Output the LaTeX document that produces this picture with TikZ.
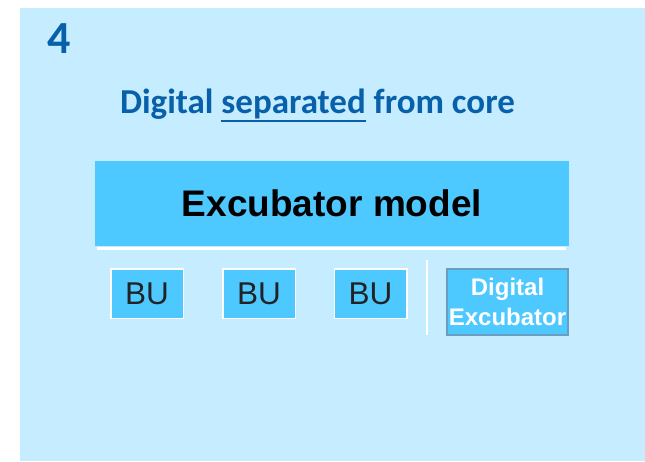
\documentclass[tikz,border=0pt]{standalone}
\usepackage{fontspec}
\setmainfont{Liberation Sans}
\newfontfamily\calfont{Carlito}
\definecolor{bgblue}{HTML}{C5ECFF}
\definecolor{boxblue}{HTML}{4DC9FF}
\definecolor{titleblue}{HTML}{0860AA}
\definecolor{edgeblue}{HTML}{6A9EC0}
\definecolor{dark}{HTML}{222222}
\newcommand\myul[1]{\setbox0\hbox{#1}\rlap{\rule[-9pt]{\wd0}{2pt}}\box0\relax}
\tikzset{
  bubox/.style={fill=boxblue, draw=white, line width=1.5pt, minimum width=72.5pt, minimum height=49.5pt, inner sep=0pt, text=dark, font=\fontsize{31.5}{31.5}\selectfont},
  sepline/.style={draw=white, line width=1.5pt},
}
\begin{document}
\begin{tikzpicture}[x=1pt,y=-1pt]
\useasboundingbox (0,0) rectangle (645,461);
\fill[bgblue] (20,8) rectangle (645,461);
\node[anchor=base west, inner sep=0pt, text=titleblue, font=\calfont\bfseries\fontsize{46}{46}\selectfont] (num) at (47.5,53) {4};
\node[anchor=base, inner sep=0pt, text=titleblue, font=\calfont\bfseries\fontsize{35}{35}\selectfont] (title) at (317.5,113) {Digital \myul{separated} from core};
\node[fill=boxblue, minimum width=474pt, minimum height=85pt, inner sep=0pt, font=\bfseries\fontsize{37}{37}\selectfont] (model) at (332,203.5) {Excubator model};
\coordinate (ul) at (97,248.5);
\coordinate (ur) at (566,248.5);
\draw[draw=white, line width=3.3pt] (ul) -- (ur);
\node[bubox] (bu1) at (147,293.5) {BU};
\node[bubox] (bu2) at (259,293.5) {BU};
\node[bubox] (bu3) at (370.5,293.5) {BU};
\coordinate (st) at (427,260);
\coordinate (sb) at (427,335);
\draw[sepline] (st) -- (sb);
\node[fill=boxblue, draw=edgeblue, line width=2pt, minimum width=121pt, minimum height=66pt, inner sep=0pt, text=white, font=\bfseries\fontsize{24}{30}\selectfont, align=center] (dx) at (507.5,302) {Digital\\Excubator};
\end{tikzpicture}
\end{document}
